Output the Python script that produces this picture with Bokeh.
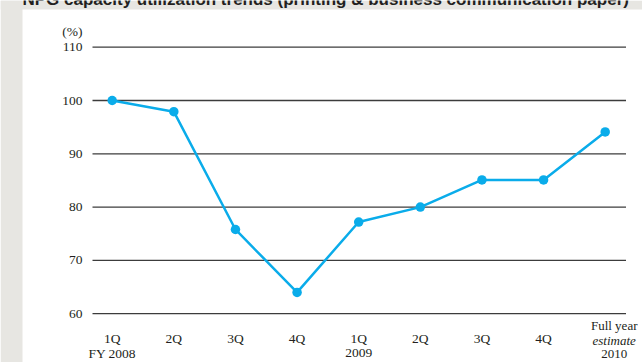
from bokeh.plotting import figure
from bokeh.models import Range1d
from bokeh.core.properties import value
from bokeh.embed import file_html
from bokeh.resources import INLINE

# ---- data -------------------------------------------------------------
quarters = ["1Q", "2Q", "3Q", "4Q", "1Q", "2Q", "3Q", "4Q"]
year_labels = ["FY 2008", "", "", "", "2009", "", "", ""]
final_label = ["Full year", "estimate", "2010"]
utilization = [100.0, 97.9, 75.8, 64.0, 77.2, 80.0, 85.1, 85.1, 94.1]
y_ticks = [60, 70, 80, 90, 100, 110]
y_unit = "(%)"
title_text = "NPG capacity utilization trends (printing & business communication paper)"

# ---- page geometry (pixels) ------------------------------------------
W, H = 642, 362
X0_PX, DX_PX = 111.7, 61.625      # first category centre, category spacing
Y110_PX, DY_PX = 46.7, 5.33       # pixel row of 110 %, pixels per percent

x_start = -X0_PX / DX_PX
x_end = (W - X0_PX) / DX_PX
y_end = 110 + Y110_PX / DY_PX
y_start = 110 - (H - Y110_PX) / DY_PX


def px_x(px):
    return x_start + px / DX_PX


def px_y(py):
    return y_end - py / DY_PX


SERIF = value("Liberation Serif")
INK = "#231f20"
BLUE = "#0aacea"
PANEL_GREY = "#e7e6e2"
LABEL_SIZE = "13.5px"

p = figure(width=W, height=H, x_range=Range1d(x_start, x_end),
           y_range=Range1d(y_start, y_end), output_backend="svg",
           toolbar_location=None, min_border=0, x_axis_location=None,
           y_axis_location=None, outline_line_color=None,
           background_fill_color="white", border_fill_color="white")
p.grid.visible = False

# grey page margin on the left and top
p.quad(left=x_start, right=px_x(22), top=y_end, bottom=y_start,
       fill_color=PANEL_GREY, line_color=None)
p.quad(left=x_start, right=x_end, top=y_end, bottom=px_y(9),
       fill_color=PANEL_GREY, line_color=None)

# title (only its lower part fits on the page)
p.text(x=[px_x(22)], y=[px_y(-1.5)], text=[title_text],
       text_font=value("Liberation Sans"), text_font_style="bold",
       text_font_size="17px", text_color=INK,
       text_align="left", text_baseline="middle")

# horizontal rules at each tick value
p.segment(x0=px_x(92), x1=px_x(625.5), y0=y_ticks, y1=y_ticks,
          line_color="#3c3c3c", line_width=1.3)

# y tick labels and unit
p.text(x=[px_x(82)] * len(y_ticks), y=y_ticks, text=[str(t) for t in y_ticks],
       text_font=SERIF, text_font_size=LABEL_SIZE, text_color=INK,
       text_align="right", text_baseline="middle")
p.text(x=[px_x(82)], y=[px_y(30.5)], text=[y_unit],
       text_font=SERIF, text_font_size=LABEL_SIZE, text_color=INK,
       text_align="right", text_baseline="middle")

# series
xs = list(range(len(utilization)))
p.line(xs, utilization, line_color=BLUE, line_width=2.5)
p.scatter(xs, utilization, size=9.5, fill_color=BLUE, line_color=None)

# category labels
qx = list(range(len(quarters)))
p.text(x=qx, y=[px_y(338)] * len(qx), text=quarters,
       text_font=SERIF, text_font_size=LABEL_SIZE, text_color=INK,
       text_align="center", text_baseline="middle")
p.text(x=qx, y=[px_y(352.5)] * len(qx), text=year_labels,
       text_font=SERIF, text_font_size=LABEL_SIZE, text_color=INK,
       text_align="center", text_baseline="middle")

last = len(utilization) - 1
rows_px = [325, 339.5, 353.5]
styles = ["normal", "italic", "normal"]
for label, row, style in zip(final_label, rows_px, styles):
    p.text(x=[last], y=[px_y(row)], text=[label], x_offset=9,
           text_font=SERIF, text_font_size="13px", text_font_style=style,
           text_color=INK, text_align="center", text_baseline="middle")

open("out.html", "w").write(file_html(p, INLINE))
